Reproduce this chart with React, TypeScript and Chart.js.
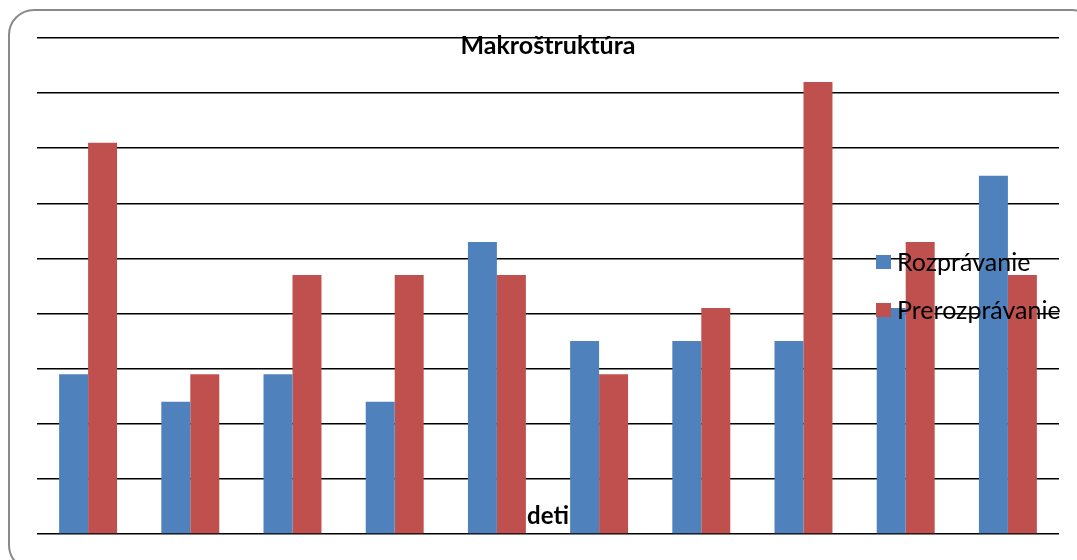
import React, { useEffect, useRef } from "react";
import { Chart, registerables } from "chart.js";

Chart.register(...registerables);

// Children (categories along the x axis) and the two series
const categories = ["1", "2", "3", "4", "5", "6", "7", "8", "9", "10"];
const rozpravanie = [0.58, 0.48, 0.58, 0.48, 1.06, 0.7, 0.7, 0.7, 0.82, 1.3];
const prerozpravanie = [1.42, 0.58, 0.94, 0.94, 0.94, 0.58, 0.82, 1.64, 1.06, 0.94];

// Value axis (labels hidden, gridlines only)
const yMin = 0;
const yMax = 1.8;
const yStep = 0.2;

const chartTitle = "Makroštruktúra";
const xAxisTitle = "deti";
const seriesNames = ["Rozprávanie", "Prerozprávanie"];
const seriesColors = ["#4F81BD", "#C0504D"];

const FONT = "Lato, 'Open Sans', sans-serif";

// Title, axis title and legend are drawn on top of the plot area
const overlayPlugin = {
  id: "overlayText",
  afterDraw(chart: Chart) {
    const { ctx, chartArea } = chart;
    const cx = (chartArea.left + chartArea.right) / 2;
    ctx.save();
    ctx.fillStyle = "#000";
    ctx.textAlign = "center";
    ctx.textBaseline = "alphabetic";
    ctx.font = `bold 25px ${FONT}`;
    ctx.fillText(chartTitle, cx, chartArea.top + 15.5);
    ctx.font = `bold 24px ${FONT}`;
    ctx.fillText(xAxisTitle, cx, chartArea.bottom - 10.5);

    ctx.textAlign = "left";
    ctx.textBaseline = "middle";
    ctx.font = `25px ${FONT}`;
    const lx = chartArea.right - 183;
    seriesNames.forEach((name, i) => {
      const y = chartArea.top + 224 + i * 48;
      ctx.fillStyle = seriesColors[i];
      ctx.fillRect(lx, y - 7, 15, 14);
      ctx.fillStyle = "#000";
      ctx.fillText(name, lx + 21, y + 1);
    });
    ctx.restore();
  },
};

export default function App() {
  const canvasRef = useRef<HTMLCanvasElement | null>(null);

  useEffect(() => {
    if (!canvasRef.current) return;
    const chart = new Chart(canvasRef.current, {
      type: "bar",
      data: {
        labels: categories,
        datasets: [
          {
            label: seriesNames[0],
            data: rozpravanie,
            backgroundColor: seriesColors[0],
            borderWidth: 0,
            categoryPercentage: 0.567,
            barPercentage: 1,
          },
          {
            label: seriesNames[1],
            data: prerozpravanie,
            backgroundColor: seriesColors[1],
            borderWidth: 0,
            categoryPercentage: 0.567,
            barPercentage: 1,
          },
        ],
      },
      options: {
        animation: false,
        responsive: false,
        devicePixelRatio: 1,
        layout: { padding: { left: 37, right: 18, top: 38, bottom: 26 } },
        plugins: {
          legend: { display: false },
          title: { display: false },
          tooltip: { enabled: false },
        },
        scales: {
          x: { display: false },
          y: {
            min: yMin,
            max: yMax,
            ticks: { display: false, stepSize: yStep },
            grid: { color: "#000", lineWidth: 1.5, drawTicks: false },
            border: { display: false },
          },
        },
      },
      plugins: [overlayPlugin],
    });
    return () => chart.destroy();
  }, []);

  return (
    <div
      style={{
        position: "absolute",
        left: 0,
        top: 0,
        width: 1077,
        height: 560,
        overflow: "hidden",
        background: "#fff",
      }}
    >
      <div
        style={{
          position: "absolute",
          left: 8,
          top: 9,
          width: 1090,
          height: 562,
          border: "2px solid #8a8a8a",
          borderRadius: 26,
          boxSizing: "border-box",
        }}
      />
      <canvas
        ref={canvasRef}
        width={1077}
        height={560}
        style={{ position: "absolute", left: 0, top: 0, width: 1077, height: 560 }}
      />
    </div>
  );
}
